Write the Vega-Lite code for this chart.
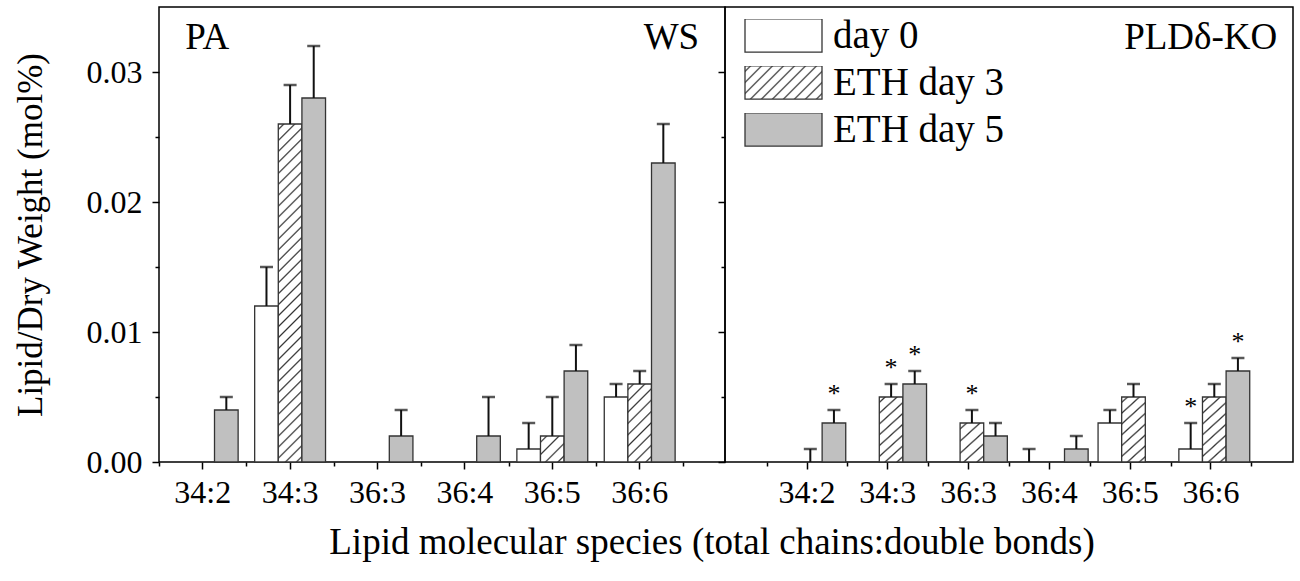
{
  "$schema": "https://vega.github.io/schema/vega-lite/v6.json",
  "padding": {"left": 12, "top": 6, "right": 7, "bottom": 12},
  "bounds": "flush",
  "config": {
    "font": "Liberation Serif",
    "view": {"stroke": "#000", "strokeWidth": 1.5},
    "axis": {"domain": false, "grid": false, "tickColor": "#000", "tickWidth": 1.5, "labelColor": "#000", "titleColor": "#000", "labelFont": "Liberation Serif", "titleFont": "Liberation Serif", "labelFontSize": 32, "titleFontSize": 35, "titleFontWeight": "normal"},
    "title": {"font": "Liberation Serif", "fontWeight": "normal", "color": "#000"},
    "text": {"font": "Liberation Serif", "color": "#000"}
  },
  "title": {"text": "Lipid molecular species (total chains:double bonds)", "orient": "bottom", "anchor": "middle", "fontSize": 37, "offset": 16, "dx": 59},
  "data": {"values": [
    {"panel": "WS", "lipid": "34:2", "series": "ETH day 5", "value": 0.004, "upper": 0.005, "sig": 0},
    {"panel": "WS", "lipid": "34:3", "series": "day 0", "value": 0.012, "upper": 0.015, "sig": 0},
    {"panel": "WS", "lipid": "34:3", "series": "ETH day 3", "value": 0.026, "upper": 0.029, "sig": 0},
    {"panel": "WS", "lipid": "34:3", "series": "ETH day 5", "value": 0.028, "upper": 0.032, "sig": 0},
    {"panel": "WS", "lipid": "36:3", "series": "ETH day 5", "value": 0.002, "upper": 0.004, "sig": 0},
    {"panel": "WS", "lipid": "36:4", "series": "ETH day 5", "value": 0.002, "upper": 0.005, "sig": 0},
    {"panel": "WS", "lipid": "36:5", "series": "day 0", "value": 0.001, "upper": 0.003, "sig": 0},
    {"panel": "WS", "lipid": "36:5", "series": "ETH day 3", "value": 0.002, "upper": 0.005, "sig": 0},
    {"panel": "WS", "lipid": "36:5", "series": "ETH day 5", "value": 0.007, "upper": 0.009, "sig": 0},
    {"panel": "WS", "lipid": "36:6", "series": "day 0", "value": 0.005, "upper": 0.006, "sig": 0},
    {"panel": "WS", "lipid": "36:6", "series": "ETH day 3", "value": 0.006, "upper": 0.007, "sig": 0},
    {"panel": "WS", "lipid": "36:6", "series": "ETH day 5", "value": 0.023, "upper": 0.026, "sig": 0},
    {"panel": "KO", "lipid": "34:2", "series": "ETH day 3", "value": 0, "upper": 0.001, "sig": 0},
    {"panel": "KO", "lipid": "34:2", "series": "ETH day 5", "value": 0.003, "upper": 0.004, "sig": 1},
    {"panel": "KO", "lipid": "34:3", "series": "ETH day 3", "value": 0.005, "upper": 0.006, "sig": 1},
    {"panel": "KO", "lipid": "34:3", "series": "ETH day 5", "value": 0.006, "upper": 0.007, "sig": 1},
    {"panel": "KO", "lipid": "36:3", "series": "ETH day 3", "value": 0.003, "upper": 0.004, "sig": 1},
    {"panel": "KO", "lipid": "36:3", "series": "ETH day 5", "value": 0.002, "upper": 0.003, "sig": 0},
    {"panel": "KO", "lipid": "36:4", "series": "day 0", "value": 0, "upper": 0.001, "sig": 0},
    {"panel": "KO", "lipid": "36:4", "series": "ETH day 5", "value": 0.001, "upper": 0.002, "sig": 0},
    {"panel": "KO", "lipid": "36:5", "series": "day 0", "value": 0.003, "upper": 0.004, "sig": 0},
    {"panel": "KO", "lipid": "36:5", "series": "ETH day 3", "value": 0.005, "upper": 0.006, "sig": 0},
    {"panel": "KO", "lipid": "36:6", "series": "day 0", "value": 0.001, "upper": 0.003, "sig": 1},
    {"panel": "KO", "lipid": "36:6", "series": "ETH day 3", "value": 0.005, "upper": 0.006, "sig": 0},
    {"panel": "KO", "lipid": "36:6", "series": "ETH day 5", "value": 0.007, "upper": 0.008, "sig": 1}
  ]},
  "spacing": 0,
  "resolve": {"legend": {"fill": "independent"}},
  "hconcat": [
    {
      "width": 566,
      "height": 455,
      "transform": [{"filter": "datum.panel == 'WS'"}],
      "resolve": {"axis": {"x": "independent"}},
      "layer": [
        {
          "transform": [{"filter": "datum.value > 0"}],
          "mark": {"type": "bar", "stroke": "#333", "strokeWidth": 1.3},
          "encoding": {
            "x": {"field": "lipid", "type": "nominal", "sort": null,
              "scale": {"domain": ["34:2", "34:3", "36:3", "36:4", "36:5", "36:6"], "paddingInner": 0, "paddingOuter": 0.238, "align": 0},
              "axis": {"title": null, "labelAngle": 0, "labelPadding": 8, "tickSize": 7}},
            "xOffset": {"field": "series", "type": "nominal", "scale": {"domain": ["day 0", "ETH day 3", "ETH day 5"], "paddingInner": 0, "paddingOuter": 0.35}},
            "y": {"field": "value", "type": "quantitative",
              "scale": {"domain": [0, 0.035], "nice": false, "zero": true},
              "axis": {"title": "Lipid/Dry Weight (mol%)", "titlePadding": 38, "labelPadding": 10,
                "values": [0, 0.005, 0.01, 0.015, 0.02, 0.025, 0.03],
                "labelExpr": "round(datum.value*1000) % 10 == 0 ? format(datum.value, '.2f') : ''",
                "tickSize": {"condition": {"test": "round(datum.value*1000) % 10 == 0", "value": 7}, "value": 4}}},
            "fill": {
              "condition": [
                {"test": "datum.series == 'ETH day 3' && datum.value > 0.02", "value": {"gradient": "linear", "x1": 0, "y1": 0, "x2": 0.0743, "y2": 1.0647, "stops": [
                  {"offset": 0.0105, "color": "#fff"}, {"offset": 0.0152, "color": "#333"}, {"offset": 0.0199, "color": "#fff"},
                  {"offset": 0.0408, "color": "#fff"}, {"offset": 0.0455, "color": "#333"}, {"offset": 0.0502, "color": "#fff"},
                  {"offset": 0.0711, "color": "#fff"}, {"offset": 0.0758, "color": "#333"}, {"offset": 0.0805, "color": "#fff"},
                  {"offset": 0.1014, "color": "#fff"}, {"offset": 0.1061, "color": "#333"}, {"offset": 0.1108, "color": "#fff"},
                  {"offset": 0.1317, "color": "#fff"}, {"offset": 0.1364, "color": "#333"}, {"offset": 0.1411, "color": "#fff"},
                  {"offset": 0.1620, "color": "#fff"}, {"offset": 0.1667, "color": "#333"}, {"offset": 0.1714, "color": "#fff"},
                  {"offset": 0.1923, "color": "#fff"}, {"offset": 0.1970, "color": "#333"}, {"offset": 0.2017, "color": "#fff"},
                  {"offset": 0.2226, "color": "#fff"}, {"offset": 0.2273, "color": "#333"}, {"offset": 0.2320, "color": "#fff"},
                  {"offset": 0.2529, "color": "#fff"}, {"offset": 0.2576, "color": "#333"}, {"offset": 0.2623, "color": "#fff"},
                  {"offset": 0.2832, "color": "#fff"}, {"offset": 0.2879, "color": "#333"}, {"offset": 0.2926, "color": "#fff"},
                  {"offset": 0.3135, "color": "#fff"}, {"offset": 0.3182, "color": "#333"}, {"offset": 0.3229, "color": "#fff"},
                  {"offset": 0.3438, "color": "#fff"}, {"offset": 0.3485, "color": "#333"}, {"offset": 0.3532, "color": "#fff"},
                  {"offset": 0.3741, "color": "#fff"}, {"offset": 0.3788, "color": "#333"}, {"offset": 0.3835, "color": "#fff"},
                  {"offset": 0.4044, "color": "#fff"}, {"offset": 0.4091, "color": "#333"}, {"offset": 0.4138, "color": "#fff"},
                  {"offset": 0.4347, "color": "#fff"}, {"offset": 0.4394, "color": "#333"}, {"offset": 0.4441, "color": "#fff"},
                  {"offset": 0.4650, "color": "#fff"}, {"offset": 0.4697, "color": "#333"}, {"offset": 0.4744, "color": "#fff"},
                  {"offset": 0.4953, "color": "#fff"}, {"offset": 0.5000, "color": "#333"}, {"offset": 0.5047, "color": "#fff"},
                  {"offset": 0.5256, "color": "#fff"}, {"offset": 0.5303, "color": "#333"}, {"offset": 0.5350, "color": "#fff"},
                  {"offset": 0.5559, "color": "#fff"}, {"offset": 0.5606, "color": "#333"}, {"offset": 0.5653, "color": "#fff"},
                  {"offset": 0.5862, "color": "#fff"}, {"offset": 0.5909, "color": "#333"}, {"offset": 0.5956, "color": "#fff"},
                  {"offset": 0.6165, "color": "#fff"}, {"offset": 0.6212, "color": "#333"}, {"offset": 0.6259, "color": "#fff"},
                  {"offset": 0.6468, "color": "#fff"}, {"offset": 0.6515, "color": "#333"}, {"offset": 0.6562, "color": "#fff"},
                  {"offset": 0.6771, "color": "#fff"}, {"offset": 0.6818, "color": "#333"}, {"offset": 0.6865, "color": "#fff"},
                  {"offset": 0.7074, "color": "#fff"}, {"offset": 0.7121, "color": "#333"}, {"offset": 0.7168, "color": "#fff"},
                  {"offset": 0.7377, "color": "#fff"}, {"offset": 0.7424, "color": "#333"}, {"offset": 0.7471, "color": "#fff"},
                  {"offset": 0.7680, "color": "#fff"}, {"offset": 0.7727, "color": "#333"}, {"offset": 0.7774, "color": "#fff"},
                  {"offset": 0.7983, "color": "#fff"}, {"offset": 0.8030, "color": "#333"}, {"offset": 0.8077, "color": "#fff"},
                  {"offset": 0.8286, "color": "#fff"}, {"offset": 0.8333, "color": "#333"}, {"offset": 0.8380, "color": "#fff"},
                  {"offset": 0.8589, "color": "#fff"}, {"offset": 0.8636, "color": "#333"}, {"offset": 0.8683, "color": "#fff"},
                  {"offset": 0.8892, "color": "#fff"}, {"offset": 0.8939, "color": "#333"}, {"offset": 0.8986, "color": "#fff"},
                  {"offset": 0.9195, "color": "#fff"}, {"offset": 0.9242, "color": "#333"}, {"offset": 0.9289, "color": "#fff"},
                  {"offset": 0.9498, "color": "#fff"}, {"offset": 0.9545, "color": "#333"}, {"offset": 0.9592, "color": "#fff"},
                  {"offset": 0.9801, "color": "#fff"}, {"offset": 0.9848, "color": "#333"}, {"offset": 0.9895, "color": "#fff"}
                ]}},
                {"test": "datum.series == 'ETH day 3' && datum.value < 0.004", "value": {"gradient": "linear", "x1": 0, "y1": 0, "x2": 0.9494, "y2": 1.046, "stops": [
                  {"offset": 0.091, "color": "#fff"}, {"offset": 0.125, "color": "#333"}, {"offset": 0.159, "color": "#fff"},
                  {"offset": 0.341, "color": "#fff"}, {"offset": 0.375, "color": "#333"}, {"offset": 0.409, "color": "#fff"},
                  {"offset": 0.591, "color": "#fff"}, {"offset": 0.625, "color": "#333"}, {"offset": 0.659, "color": "#fff"},
                  {"offset": 0.841, "color": "#fff"}, {"offset": 0.875, "color": "#333"}, {"offset": 0.909, "color": "#fff"}
                ]}},
                {"test": "datum.series == 'ETH day 3'", "value": {"gradient": "linear", "x1": 0, "y1": 0, "x2": 0.3611, "y2": 1.1933, "stops": [
                  {"offset": 0.0389, "color": "#fff"}, {"offset": 0.0556, "color": "#333"}, {"offset": 0.0723, "color": "#fff"},
                  {"offset": 0.1500, "color": "#fff"}, {"offset": 0.1667, "color": "#333"}, {"offset": 0.1834, "color": "#fff"},
                  {"offset": 0.2611, "color": "#fff"}, {"offset": 0.2778, "color": "#333"}, {"offset": 0.2945, "color": "#fff"},
                  {"offset": 0.3722, "color": "#fff"}, {"offset": 0.3889, "color": "#333"}, {"offset": 0.4056, "color": "#fff"},
                  {"offset": 0.4833, "color": "#fff"}, {"offset": 0.5000, "color": "#333"}, {"offset": 0.5167, "color": "#fff"},
                  {"offset": 0.5944, "color": "#fff"}, {"offset": 0.6111, "color": "#333"}, {"offset": 0.6278, "color": "#fff"},
                  {"offset": 0.7055, "color": "#fff"}, {"offset": 0.7222, "color": "#333"}, {"offset": 0.7389, "color": "#fff"},
                  {"offset": 0.8166, "color": "#fff"}, {"offset": 0.8333, "color": "#333"}, {"offset": 0.8500, "color": "#fff"},
                  {"offset": 0.9277, "color": "#fff"}, {"offset": 0.9444, "color": "#333"}, {"offset": 0.9611, "color": "#fff"}
                ]}}
              ],
              "field": "series", "type": "nominal",
              "scale": {"domain": ["day 0", "ETH day 3", "ETH day 5"], "range": ["#ffffff", {"expr": "{gradient: 'linear', x1: 0, y1: 0, x2: 1.2069, y2: 0.5172, stops: [{offset: 0.0345, color: '#fff'}, {offset: 0.05, color: '#333'}, {offset: 0.0655, color: '#fff'}, {offset: 0.1345, color: '#fff'}, {offset: 0.15, color: '#333'}, {offset: 0.1655, color: '#fff'}, {offset: 0.2345, color: '#fff'}, {offset: 0.25, color: '#333'}, {offset: 0.2655, color: '#fff'}, {offset: 0.3345, color: '#fff'}, {offset: 0.35, color: '#333'}, {offset: 0.3655, color: '#fff'}, {offset: 0.4345, color: '#fff'}, {offset: 0.45, color: '#333'}, {offset: 0.4655, color: '#fff'}, {offset: 0.5345, color: '#fff'}, {offset: 0.55, color: '#333'}, {offset: 0.5655, color: '#fff'}, {offset: 0.6345, color: '#fff'}, {offset: 0.65, color: '#333'}, {offset: 0.6655, color: '#fff'}, {offset: 0.7345, color: '#fff'}, {offset: 0.75, color: '#333'}, {offset: 0.7655, color: '#fff'}, {offset: 0.8345, color: '#fff'}, {offset: 0.85, color: '#333'}, {offset: 0.8655, color: '#fff'}, {offset: 0.9345, color: '#fff'}, {offset: 0.95, color: '#333'}, {offset: 0.9655, color: '#fff'}]}"}, "#c0c0c0"]},
              "legend": null
            }
          }
        },
        {
          "mark": {"type": "rule", "strokeWidth": 2, "color": "#111"},
          "encoding": {
            "x": {"field": "lipid", "type": "nominal", "sort": null,
              "axis": {"orient": "bottom", "tickBand": "extent", "tickExtra": true, "labels": false, "tickSize": 4, "title": null}},
            "xOffset": {"field": "series", "type": "nominal"},
            "y": {"field": "value", "type": "quantitative"},
            "y2": {"field": "upper"}
          }
        },
        {
          "mark": {"type": "tick", "thickness": 2.5, "size": 13, "color": "#111"},
          "encoding": {
            "x": {"field": "lipid", "type": "nominal", "sort": null, "axis": null},
            "xOffset": {"field": "series", "type": "nominal"},
            "y": {"field": "upper", "type": "quantitative"}
          }
        },
        {
          "data": {"values": [{}]},
          "mark": {"type": "text", "text": "PA", "fontSize": 37, "align": "left", "baseline": "alphabetic", "color": "#000"},
          "encoding": {
            "x": {"datum": "34:2", "bandPosition": 0.3, "axis": null},
            "y": {"datum": 0.0318}
          }
        },
        {
          "data": {"values": [{}]},
          "mark": {"type": "text", "text": "WS", "fontSize": 37, "align": "right", "baseline": "alphabetic", "color": "#000"},
          "encoding": {
            "x": {"datum": "36:6", "bandPosition": 1.18, "axis": null},
            "y": {"datum": 0.0318}
          }
        }
      ]
    },
    {
      "width": 568,
      "height": 455,
      "transform": [{"filter": "datum.panel == 'KO'"}],
      "resolve": {"axis": {"x": "independent"}},
      "layer": [
        {
          "transform": [{"filter": "datum.value > 0"}],
          "mark": {"type": "bar", "stroke": "#333", "strokeWidth": 1.3},
          "encoding": {
            "x": {"field": "lipid", "type": "nominal", "sort": null,
              "scale": {"domain": ["34:2", "34:3", "36:3", "36:4", "36:5", "36:6"], "paddingInner": 0, "paddingOuter": 0.515, "align": 0.5},
              "axis": {"title": null, "labelAngle": 0, "labelPadding": 8, "tickSize": 7}},
            "xOffset": {"field": "series", "type": "nominal", "scale": {"domain": ["day 0", "ETH day 3", "ETH day 5"], "paddingInner": 0, "paddingOuter": 0.38}},
            "y": {"field": "value", "type": "quantitative",
              "scale": {"domain": [0, 0.035], "nice": false, "zero": true},
              "axis": {"title": null, "labels": false,
                "values": [0, 0.005, 0.01, 0.015, 0.02, 0.025, 0.03],
                "tickSize": {"condition": {"test": "round(datum.value*1000) % 10 == 0", "value": 7}, "value": 4}}},
            "fill": {
              "condition": [
                {"test": "datum.series == 'ETH day 3' && datum.value < 0.004", "value": {"gradient": "linear", "x1": 0, "y1": 0, "x2": 0.6559, "y2": 1.1897, "stops": [
                  {"offset": 0.0719, "color": "#fff"}, {"offset": 0.1, "color": "#333"}, {"offset": 0.1281, "color": "#fff"},
                  {"offset": 0.2719, "color": "#fff"}, {"offset": 0.3, "color": "#333"}, {"offset": 0.3281, "color": "#fff"},
                  {"offset": 0.4719, "color": "#fff"}, {"offset": 0.5, "color": "#333"}, {"offset": 0.5281, "color": "#fff"},
                  {"offset": 0.6719, "color": "#fff"}, {"offset": 0.7, "color": "#333"}, {"offset": 0.7281, "color": "#fff"},
                  {"offset": 0.8719, "color": "#fff"}, {"offset": 0.9, "color": "#333"}, {"offset": 0.9281, "color": "#fff"}
                ]}},
                {"test": "datum.series == 'ETH day 3'", "value": {"gradient": "linear", "x1": 0, "y1": 0, "x2": 0.3968, "y2": 1.1995, "stops": [
                  {"offset": 0.0428, "color": "#fff"}, {"offset": 0.0625, "color": "#333"}, {"offset": 0.0822, "color": "#fff"},
                  {"offset": 0.1678, "color": "#fff"}, {"offset": 0.1875, "color": "#333"}, {"offset": 0.2072, "color": "#fff"},
                  {"offset": 0.2928, "color": "#fff"}, {"offset": 0.3125, "color": "#333"}, {"offset": 0.3322, "color": "#fff"},
                  {"offset": 0.4178, "color": "#fff"}, {"offset": 0.4375, "color": "#333"}, {"offset": 0.4572, "color": "#fff"},
                  {"offset": 0.5428, "color": "#fff"}, {"offset": 0.5625, "color": "#333"}, {"offset": 0.5822, "color": "#fff"},
                  {"offset": 0.6678, "color": "#fff"}, {"offset": 0.6875, "color": "#333"}, {"offset": 0.7072, "color": "#fff"},
                  {"offset": 0.7928, "color": "#fff"}, {"offset": 0.8125, "color": "#333"}, {"offset": 0.8322, "color": "#fff"},
                  {"offset": 0.9178, "color": "#fff"}, {"offset": 0.9375, "color": "#333"}, {"offset": 0.9572, "color": "#fff"}
                ]}}
              ],
              "field": "series", "type": "nominal",
              "legend": {
                "orient": "none", "legendX": 19, "legendY": 12, "title": null, "padding": 0,
                "symbolType": "M-1,-0.43H1V0.43H-1Z", "symbolSize": 5929,
                "symbolStrokeColor": "#333", "symbolStrokeWidth": 1.3, "symbolOpacity": 1,
                "clipHeight": 33, "rowPadding": 7, "labelOffset": 10,
                "labelFontSize": 39, "labelFont": "Liberation Serif", "labelColor": "#000", "labelLimit": 400
              }
            }
          }
        },
        {
          "mark": {"type": "rule", "strokeWidth": 2, "color": "#111"},
          "encoding": {
            "x": {"field": "lipid", "type": "nominal", "sort": null,
              "axis": {"orient": "bottom", "tickBand": "extent", "tickExtra": true, "labels": false, "tickSize": 4, "title": null}},
            "xOffset": {"field": "series", "type": "nominal"},
            "y": {"field": "value", "type": "quantitative"},
            "y2": {"field": "upper"}
          }
        },
        {
          "mark": {"type": "tick", "thickness": 2.5, "size": 13, "color": "#111"},
          "encoding": {
            "x": {"field": "lipid", "type": "nominal", "sort": null, "axis": null},
            "xOffset": {"field": "series", "type": "nominal"},
            "y": {"field": "upper", "type": "quantitative"}
          }
        },
        {
          "transform": [{"filter": "datum.sig == 1"}],
          "mark": {"type": "text", "text": "*", "fontSize": 26, "baseline": "alphabetic", "dy": -8, "color": "#000"},
          "encoding": {
            "x": {"field": "lipid", "type": "nominal", "sort": null, "axis": null},
            "xOffset": {"field": "series", "type": "nominal"},
            "y": {"field": "upper", "type": "quantitative"}
          }
        },
        {
          "data": {"values": [{}]},
          "mark": {"type": "text", "text": "PLDδ-KO", "fontSize": 37, "align": "right", "baseline": "alphabetic", "color": "#000"},
          "encoding": {
            "x": {"datum": "36:6", "bandPosition": 1.32, "axis": null},
            "y": {"datum": 0.0318}
          }
        }
      ]
    }
  ]
}
